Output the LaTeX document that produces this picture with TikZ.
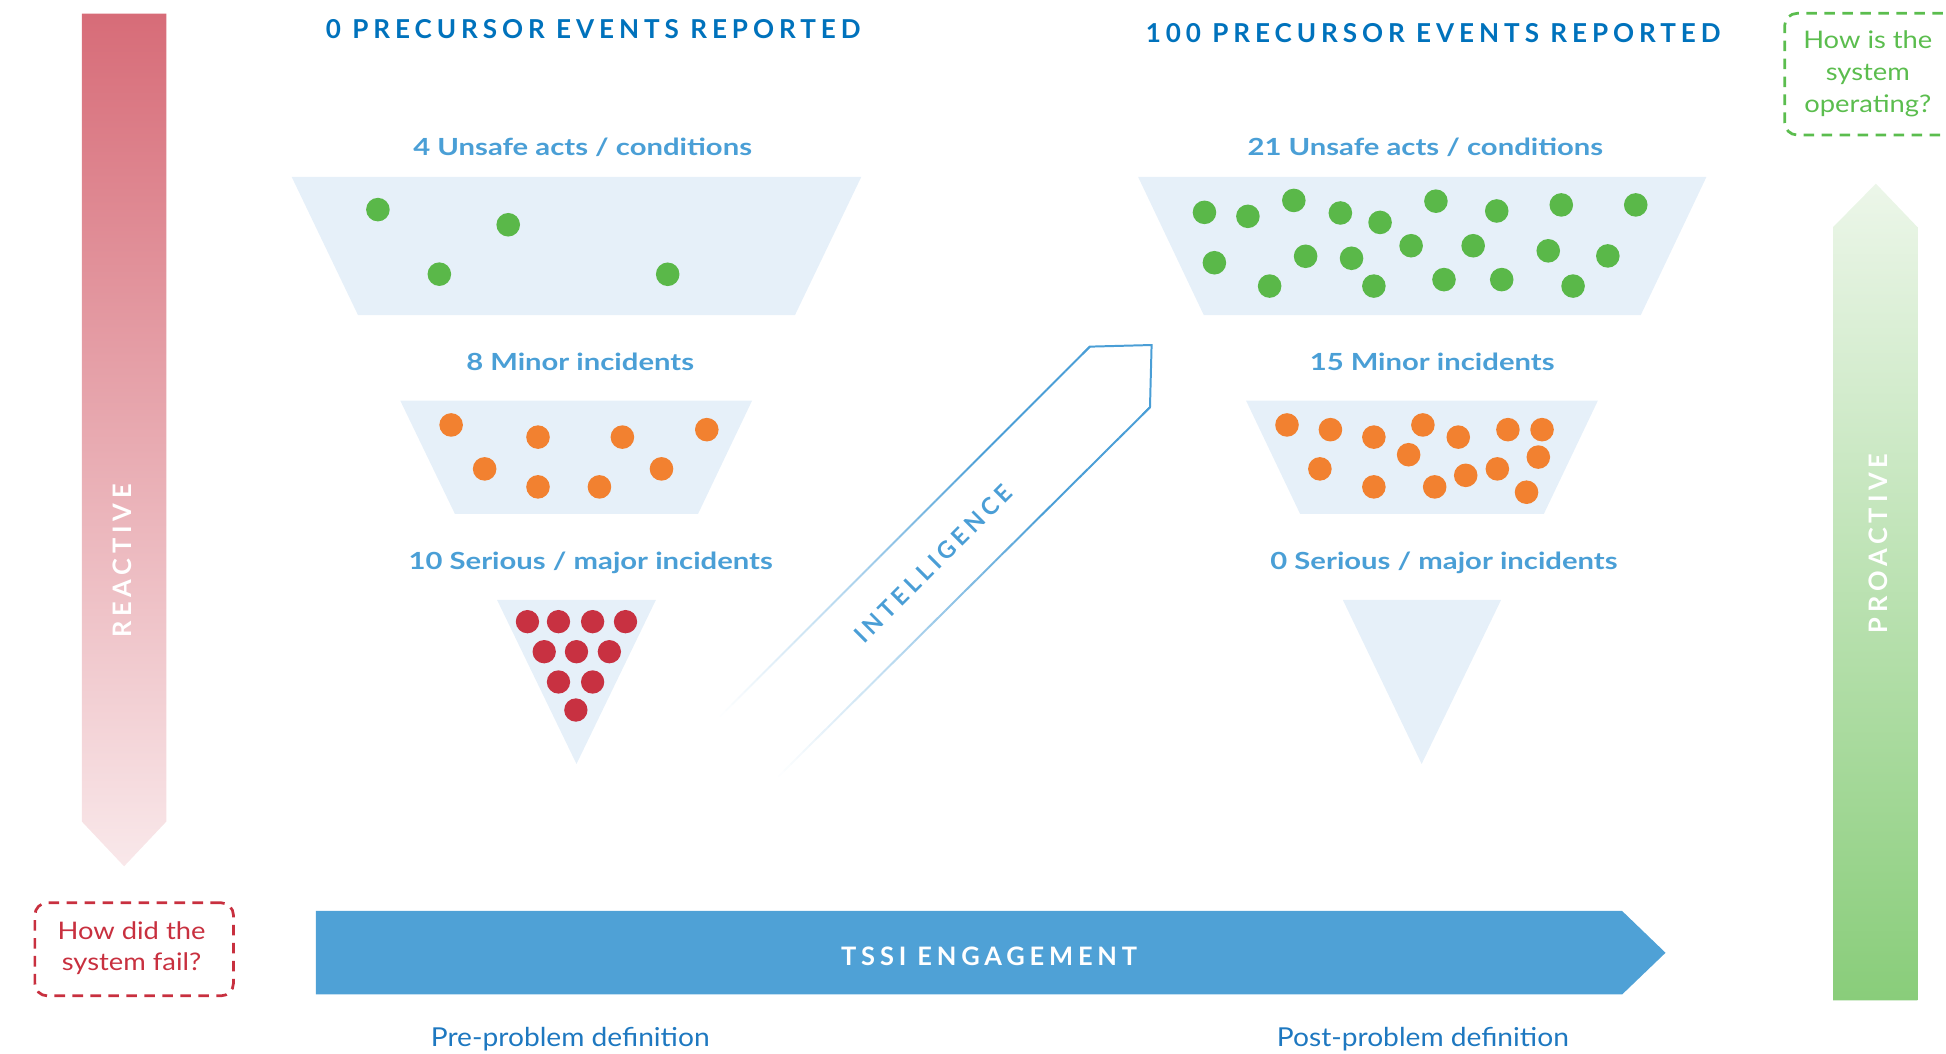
\documentclass[tikz,border=0pt]{standalone}
\usepackage{fontspec}
\setmainfont{Lato}
\newfontfamily\trackfont[LetterSpace=19]{Lato}
\newfontfamily\lblfont[FakeStretch=1.24]{Lato}
\newfontfamily\deffont[FakeStretch=1.08]{Lato}
\newfontfamily\qfont[FakeStretch=1.13]{Lato}
\usetikzlibrary{calc}
\definecolor{hdblue}{RGB}{0,114,188}
\definecolor{lblblue}{RGB}{74,159,214}
\definecolor{defblue}{RGB}{30,120,192}
\definecolor{trap}{RGB}{230,240,249}
\definecolor{dotg}{RGB}{90,184,73}
\definecolor{doto}{RGB}{242,129,48}
\definecolor{dotr}{RGB}{200,49,65}
\definecolor{barblue}{RGB}{79,161,214}
\definecolor{redtop}{RGB}{215,108,120}
\definecolor{redmid}{RGB}{222,140,150}
\definecolor{redbot}{RGB}{249,232,234}
\definecolor{grtop}{RGB}{236,246,233}
\definecolor{grmid}{RGB}{170,219,158}
\definecolor{grbot}{RGB}{137,205,122}
\definecolor{boxred}{RGB}{200,48,63}
\definecolor{boxgreen}{RGB}{91,189,78}
\definecolor{intel}{RGB}{74,158,214}
\tikzset{
  hdtext/.style={text=hdblue, font=\trackfont\bfseries\fontsize{21}{25}\selectfont, inner sep=0, anchor=base},
  lbltext/.style={text=lblblue, font=\lblfont\bfseries\fontsize{19}{23}\selectfont, inner sep=0, anchor=base},
  deftext/.style={text=defblue, font=\deffont\fontsize{21}{25}\selectfont, inner sep=0, anchor=base},
  whitetext/.style={text=white, font=\trackfont\bfseries\fontsize{20.5}{24}\selectfont, inner sep=0},
  qbox/.style={dash pattern=on 8.5pt off 6pt, line width=2.2pt, rounded corners=10pt, inner sep=0},
  qtext/.style={font=\qfont\fontsize{19.5}{25.5}\selectfont, align=center, inner sep=0},
  trapfill/.style={fill=trap},
  gdot/.style={fill=dotg},
  odot/.style={fill=doto},
  rdot/.style={fill=dotr}
}
\begin{document}
\begin{tikzpicture}[x=1pt,y=-1pt]
\useasboundingbox (0,0) rectangle (1568,848.5);
\clip (0,0) rectangle (1568,848.5);

% side arrows
\shade[top color=redtop, middle color=redmid, bottom color=redbot]
  (66,11) -- (134,11) -- (134,662) -- (100,698) -- (66,662) -- cycle;
\shade[top color=grtop, middle color=grmid, bottom color=grbot]
  (1477,806) -- (1545,806) -- (1545,183) -- (1511.5,148) -- (1477,183) -- cycle;
\node[whitetext, rotate=90] (reactive) at (98.7,452) {REACTIVE};
\node[whitetext, rotate=90] (proactive) at (1513.5,437.7) {PROACTIVE};

% question boxes
\node[qbox, draw=boxred, minimum width=160pt, minimum height=75pt] (failbox) at (108.1,764.9) {};
\node[qtext, text=boxred] (failtext) at (106,764) {How did the\\system fail?};
\node[qbox, draw=boxgreen, minimum width=152pt, minimum height=98pt] (opbox) at (1514,59.75) {};
\node[qtext, text=boxgreen] (optext) at (1505,59.5) {How is the\\system\\operating?};

% headers
\node[hdtext] (h0) at (478,31.3) {0 PRECURSOR EVENTS REPORTED};
\node[hdtext] (h100) at (1154.8,34) {100 PRECURSOR EVENTS REPORTED};

% left funnel
\fill[trapfill] (235,142.5) -- (694,142.5) -- (640.5,254) -- (288.5,254) -- cycle;
\fill[trapfill] (322.5,322.8) -- (606,322.8) -- (562.5,414) -- (366.5,414) -- cycle;
\fill[trapfill] (400.5,483.4) -- (528.5,483.4) -- (464.5,615.6) -- cycle;
\node[lbltext] (l1) at (469.5,125.3) {4 Unsafe acts / conditions};
\node[lbltext] (l2) at (467.5,298.3) {8 Minor incidents};
\node[lbltext] (l3) at (476,458.7) {10 Serious / major incidents};
\foreach \p in {(304.5,168.9),(409.5,181.1),(354,220.9),(538,221)}
  \fill[gdot] \p circle (9.5);
\foreach \p in {(363.5,342.4),(433.5,352.2),(501.5,352.2),(569.5,346.2),(390.5,377.8),(433.5,392.3),(483,392.3),(533,377.8)}
  \fill[odot] \p circle (9.5);
\foreach \p in {(425,500.9),(450,500.9),(477.5,500.9),(504,500.9),(438.5,525.1),(464.5,525.1),(491,525.1),(450,549.5),(477.5,549.5),(464,572.1)}
  \fill[rdot] \p circle (9.4);

% right funnel
\fill[trapfill] (917,142.5) -- (1375,142.5) -- (1322,254) -- (970,254) -- cycle;
\fill[trapfill] (1004,322.8) -- (1287.5,322.8) -- (1244,414) -- (1047.5,414) -- cycle;
\fill[trapfill] (1082,483.4) -- (1209.5,483.4) -- (1145.5,615.6) -- cycle;
\node[lbltext] (r1) at (1148.5,125.3) {21 Unsafe acts / conditions};
\node[lbltext] (r2) at (1154,298.3) {15 Minor incidents};
\node[lbltext] (r3) at (1163.5,458.7) {0 Serious / major incidents};
\foreach \p in {(970.5,171.1),(1005.5,174.3),(1042.5,161.5),(1080,171.6),(1112,179.2),(1157,162.1),(1206,170.0),(1258,165.1),(1318,165.1),(978.5,211.7),(1023,230.5),(1052,206.5),(1089,208.1),(1137,198.0),(1187,198.0),(1247.5,202.1),(1295.5,206.2),(1107,230.5),(1163.5,225.3),(1210,225.3),(1267.5,230.5)}
  \fill[gdot] \p circle (9.5);
\foreach \p in {(1037,342.4),(1072,346.2),(1107,352.2),(1146.5,342.4),(1175,352.2),(1215,346.2),(1242.5,346.2),(1135,366.4),(1239.5,368.3),(1063.5,377.8),(1107,392.3),(1156,392.3),(1181,383.0),(1206.5,377.8),(1230,396.6)}
  \fill[odot] \p circle (9.5);

% intelligence arrow
\coordinate (iA) at (580,577.4);
\coordinate (iB) at (878.2,279.3);
\coordinate (iT) at (927.9,278);
\coordinate (iD) at (926.6,328.2);
\coordinate (iC) at (627,625.8);
\foreach \i in {0,...,59}{
  \pgfmathsetmacro\ta{\i/60}
  \pgfmathsetmacro\tb{(\i+1)/60}
  \pgfmathsetmacro\pc{min(100,100*(\tb/0.72)^1.2)}
  \draw[line width=1.6pt, color=intel!\pc!white] ($(iA)!\ta!(iB)$) -- ($(iA)!\tb!(iB)$);
  \draw[line width=1.6pt, color=intel!\pc!white] ($(iC)!\ta!(iD)$) -- ($(iC)!\tb!(iD)$);
}
\draw[line width=1.6pt, color=intel, line join=miter] ($(iA)!0.98!(iB)$) -- (iB) -- (iT) -- (iD) -- ($(iD)!0.02!(iC)$);
\node[text=intel, font=\trackfont\bfseries\fontsize{19}{23}\selectfont, rotate=45, inner sep=0] (intl) at (752,454) {INTELLIGENCE};

% engagement bar
\fill[barblue] (254.5,734) -- (1307,734) -- (1342,767.7) -- (1307,801.3) -- (254.5,801.3) -- cycle;
\node[whitetext, anchor=base] (tssi) at (797,777.7) {TSSI ENGAGEMENT};

% footers
\node[deftext] (pre) at (459.5,843) {Pre-problem definition};
\node[deftext] (post) at (1146.5,843) {Post-problem definition};
\end{tikzpicture}
\end{document}
